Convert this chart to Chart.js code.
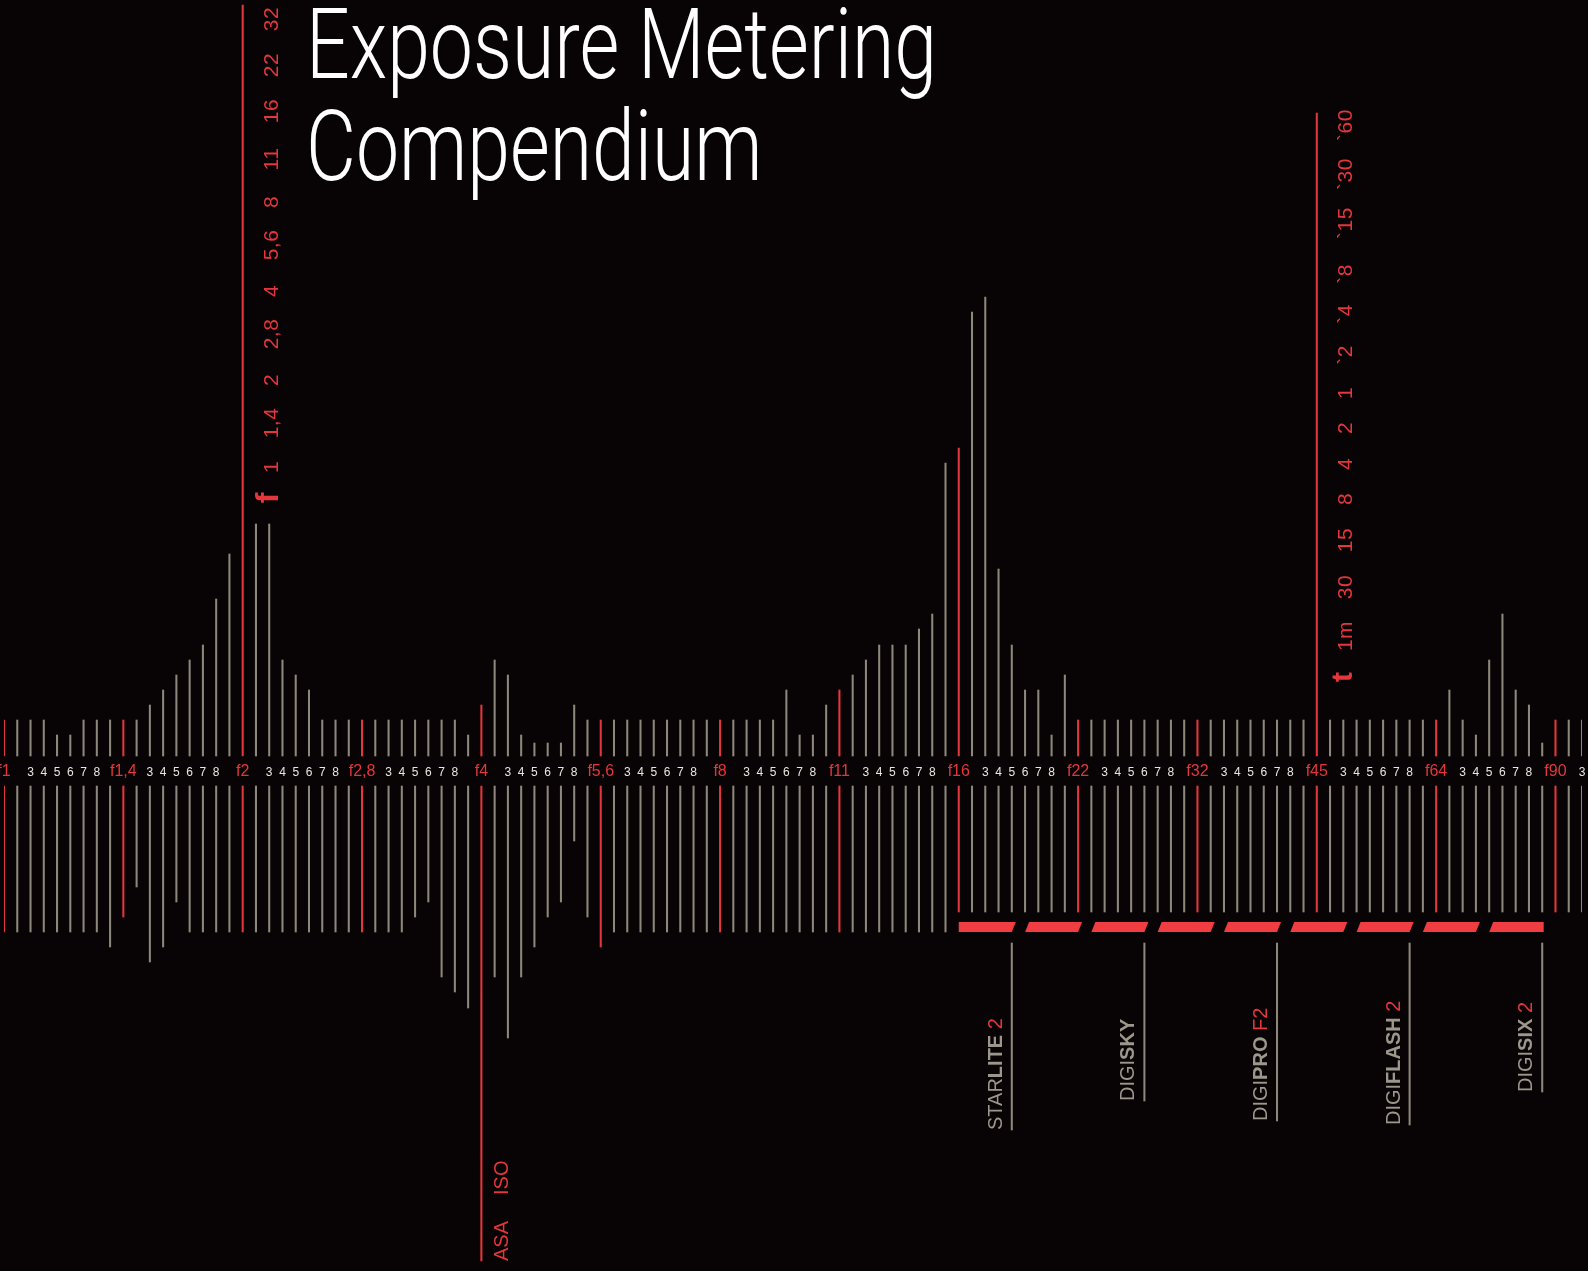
<!DOCTYPE html>
<html>
<head>
<meta charset="utf-8">
<title>Exposure Metering Compendium</title>
<script src="https://cdn.jsdelivr.net/npm/chart.js@4.4.0/dist/chart.umd.min.js"></script>
<style>
  html, body { margin: 0; padding: 0; background: #080304; }
  canvas { display: block; }
</style>
</head>
<body>
<canvas id="meter" width="1588" height="1271"></canvas>
<script>
// tick labels along the middle band
const stopNames = ['f1', 'f1,4', 'f2', 'f2,8', 'f4', 'f5,6', 'f8', 'f11', 'f16', 'f22', 'f32', 'f45', 'f64', 'f90']
const stepNames = ['', '3', '4', '5', '6', '7', '8', '']

// bar heights above the band / below the band
const upHeights = [
  36, 36, 36, 36, 21, 21, 36, 36, 36, 36,
  36, 51, 66, 81, 96, 111, 157, 202, 751, 232,
  232, 96, 81, 66, 36, 36, 36, 36, 36, 36,
  36, 36, 36, 36, 36, 21, 51, 96, 81, 21,
  13, 13, 13, 51, 36, 36, 36, 36, 36, 36,
  36, 36, 36, 36, 36, 36, 36, 36, 36, 66,
  21, 21, 51, 66, 81, 96, 111, 111, 111, 127,
  142, 293, 308, 444, 459, 187, 111, 66, 66, 21,
  81, 36, 36, 36, 36, 36, 36, 36, 36, 36,
  36, 36, 36, 36, 36, 36, 36, 36, 36, 643,
  36, 36, 36, 36, 36, 36, 36, 36, 36, 66,
  36, 21, 96, 142, 66, 51, 13, 36, 36, 36
]
const downHeights = [
  146, 146, 146, 146, 146, 146, 146, 146, 161, 131,
  101, 176, 161, 116, 146, 146, 146, 146, 146, 146,
  146, 146, 146, 146, 146, 146, 146, 146, 146, 146,
  146, 131, 116, 191, 206, 222, 475, 191, 252, 191,
  161, 131, 116, 55, 131, 161, 146, 146, 146, 146,
  146, 146, 146, 146, 146, 146, 146, 146, 146, 146,
  146, 146, 146, 146, 146, 146, 146, 146, 146, 146,
  146, 146, 126, 126, 126, 126, 126, 126, 126, 126,
  126, 126, 126, 126, 126, 126, 126, 126, 126, 126,
  126, 126, 126, 126, 126, 126, 126, 126, 126, 126,
  126, 126, 126, 126, 126, 126, 126, 126, 126, 126,
  126, 126, 126, 126, 126, 126, 126, 126, 126, 126
]

// aperture scale (on the f2 line) and time scale (on the f45 line)
const apertureTicks = ['32', '22', '16', '11', '8', '5,6', '4', '2,8', '2', '1,4', '1']
const apertureValues = [737, 691, 645, 597, 554, 511, 465, 422, 376, 333, 289]
const timeTicks = ['`60', '`30', '`15', '`8', '`4', '`2', '1', '2', '4', '8', '15', '30', '1m']
const timeValues = [631, 582, 533, 482, 442, 401, 363, 328, 292, 257, 216, 169, 120]

// products under the red dashed band
const productNames = [['STAR', 'LITE', ' 2'], ['DIGI', 'SKY', ''], ['DIGI', 'PRO', ' F2'], ['DIGI', 'FLASH', ' 2'], ['DIGI', 'SIX', ' 2']]
const productIndex = [76, 86, 96, 106, 116]
const productLineEnd = [-374, -345, -365, -369, -336]
const dashRanges = [[72, 76], [77, 81], [82, 86], [87, 91], [92, 96], [97, 101], [102, 106], [107, 111], [112, 116]]

const RED = '#e3373b'
const DASH_RED = '#ef3d41'
const GREY = '#8c887b'
const GAP = 30
const FONT = '"Liberation Sans", Arial, sans-serif'

const labels = []
stopNames.forEach(name => {
  labels.push(name)
  stepNames.forEach(s => labels.push(s))
})
labels.length = upHeights.length

const barColors = labels.map(l => l.startsWith('f') ? RED : GREY)

function vtext(ctx, text, px, py, align) {
  ctx.save()
  ctx.translate(px, py)
  ctx.rotate(-Math.PI / 2)
  ctx.textAlign = align
  ctx.fillText(text, 0, 0)
  ctx.restore()
}

const artwork = {
  id: 'artwork',
  beforeDraw(chart) {
    const ctx = chart.ctx
    ctx.save()
    ctx.fillStyle = '#080304'
    ctx.fillRect(0, 0, chart.width, chart.height)
    ctx.restore()
  },
  afterDatasetsDraw(chart) {
    const ctx = chart.ctx
    const x = chart.scales.x
    const y = chart.scales.y
    ctx.save()

    // band labels
    ctx.textAlign = 'center'
    ctx.textBaseline = 'alphabetic'
    labels.forEach((l, i) => {
      if (!l) return
      const stop = l.startsWith('f')
      ctx.font = (stop ? '16px ' : '12px ') + FONT
      ctx.fillStyle = stop ? RED : '#e8e6e0'
      ctx.fillText(l, x.getPixelForValue(i), y.getPixelForValue(-GAP + 10))
    })

    // aperture scale
    ctx.fillStyle = RED
    ctx.font = '21px ' + FONT
    ctx.letterSpacing = '0.5px'
    const fx = x.getPixelForValue(18) + 35
    apertureTicks.forEach((t, i) => vtext(ctx, t, fx, y.getPixelForValue(apertureValues[i]), 'center'))

    // time scale
    const tx = x.getPixelForValue(99) + 35
    timeTicks.forEach((t, i) => vtext(ctx, t, tx, y.getPixelForValue(timeValues[i]), 'center'))
    ctx.letterSpacing = '0px'
    ctx.font = 'bold 32px ' + FONT
    vtext(ctx, 'f', fx, y.getPixelForValue(258), 'center')
    ctx.font = 'bold 30px ' + FONT
    vtext(ctx, 't', tx, y.getPixelForValue(79), 'center')

    // red dashed band
    ctx.fillStyle = DASH_RED
    const dTop = y.getPixelForValue(-166)
    const dBot = y.getPixelForValue(-176)
    dashRanges.forEach((r, k) => {
      const x0 = x.getPixelForValue(r[0])
      const x1 = x.getPixelForValue(r[1])
      const skewL = k === 0 ? 0 : 4
      const last = k === dashRanges.length - 1
      ctx.beginPath()
      ctx.moveTo(x0, dBot)
      ctx.lineTo(x0 + skewL, dTop)
      ctx.lineTo(last ? x1 + 1.5 : x1 + 4, dTop)
      ctx.lineTo(last ? x1 + 1.5 : x1, dBot)
      ctx.closePath()
      ctx.fill()
    })

    // product names
    ctx.textAlign = 'left'
    productNames.forEach((parts, k) => {
      const px = x.getPixelForValue(productIndex[k]) - 10
      const py = y.getPixelForValue(productLineEnd[k])
      ctx.save()
      ctx.translate(px, py)
      ctx.rotate(-Math.PI / 2)
      let off = 0
      const styles = [['20px ', '#9c978b'], ['bold 20px ', '#9c978b'], ['20px ', RED]]
      parts.forEach((p, j) => {
        if (!p) return
        ctx.font = styles[j][0] + FONT
        ctx.fillStyle = styles[j][1]
        ctx.fillText(p, off, 0)
        off += ctx.measureText(p).width
      })
      ctx.restore()
    })

    // ASA / ISO on the f4 line
    ctx.fillStyle = RED
    ctx.font = '20px ' + FONT
    const ax = x.getPixelForValue(36) + 27
    const ay = y.getPixelForValue(-GAP - downHeights[36])
    vtext(ctx, 'ASA', ax, ay, 'left')
    vtext(ctx, 'ISO', ax, ay - 66, 'left')

    ctx.restore()
  },
  afterDraw(chart) {
    const ctx = chart.ctx
    ctx.save()
    ctx.fillStyle = '#ffffff'
    ctx.font = '300 98px Roboto, "Liberation Sans", sans-serif'
    ctx.textAlign = 'left'
    ctx.textBaseline = 'alphabetic'
    const line1 = 'Exposure Metering'
    const sx = 631 / ctx.measureText(line1).width
    ctx.translate(306, 0)
    ctx.scale(sx, 1)
    ctx.fillText(line1, 0, 78)
    ctx.fillText('Compendium', 0, 180)
    ctx.restore()
  }
}

const meterChart = new Chart(document.getElementById('meter').getContext('2d'), {
  type: 'bar',
  data: {
    labels: labels,
    datasets: [{
      label: 'up',
      data: upHeights.map(h => [0, h]),
      backgroundColor: barColors,
      grouped: false,
      barThickness: 1.4
    },
    {
      label: 'down',
      data: downHeights.map(d => [-GAP, -GAP - d]),
      backgroundColor: barColors,
      grouped: false,
      barThickness: 1.4
    },
    {
      label: 'products',
      data: labels.map((l, i) => {
        const k = productIndex.indexOf(i)
        return k < 0 ? null : [-187, productLineEnd[k]]
      }),
      backgroundColor: GREY,
      grouped: false,
      barThickness: 1.4
    }]
  },
  plugins: [artwork],
  options: {
    responsive: false,
    animation: false,
    devicePixelRatio: 1,
    layout: {
      padding: { left: 4, right: 6, top: 0, bottom: 0 }
    },
    scales: {
      x: {
        type: 'category',
        offset: false,
        display: false
      },
      y: {
        min: -515,
        max: 756,
        display: false
      }
    },
    plugins: {
      legend: { display: false },
      tooltip: { enabled: false },
      title: { display: false }
    }
  }
})
</script>
</body>
</html>
